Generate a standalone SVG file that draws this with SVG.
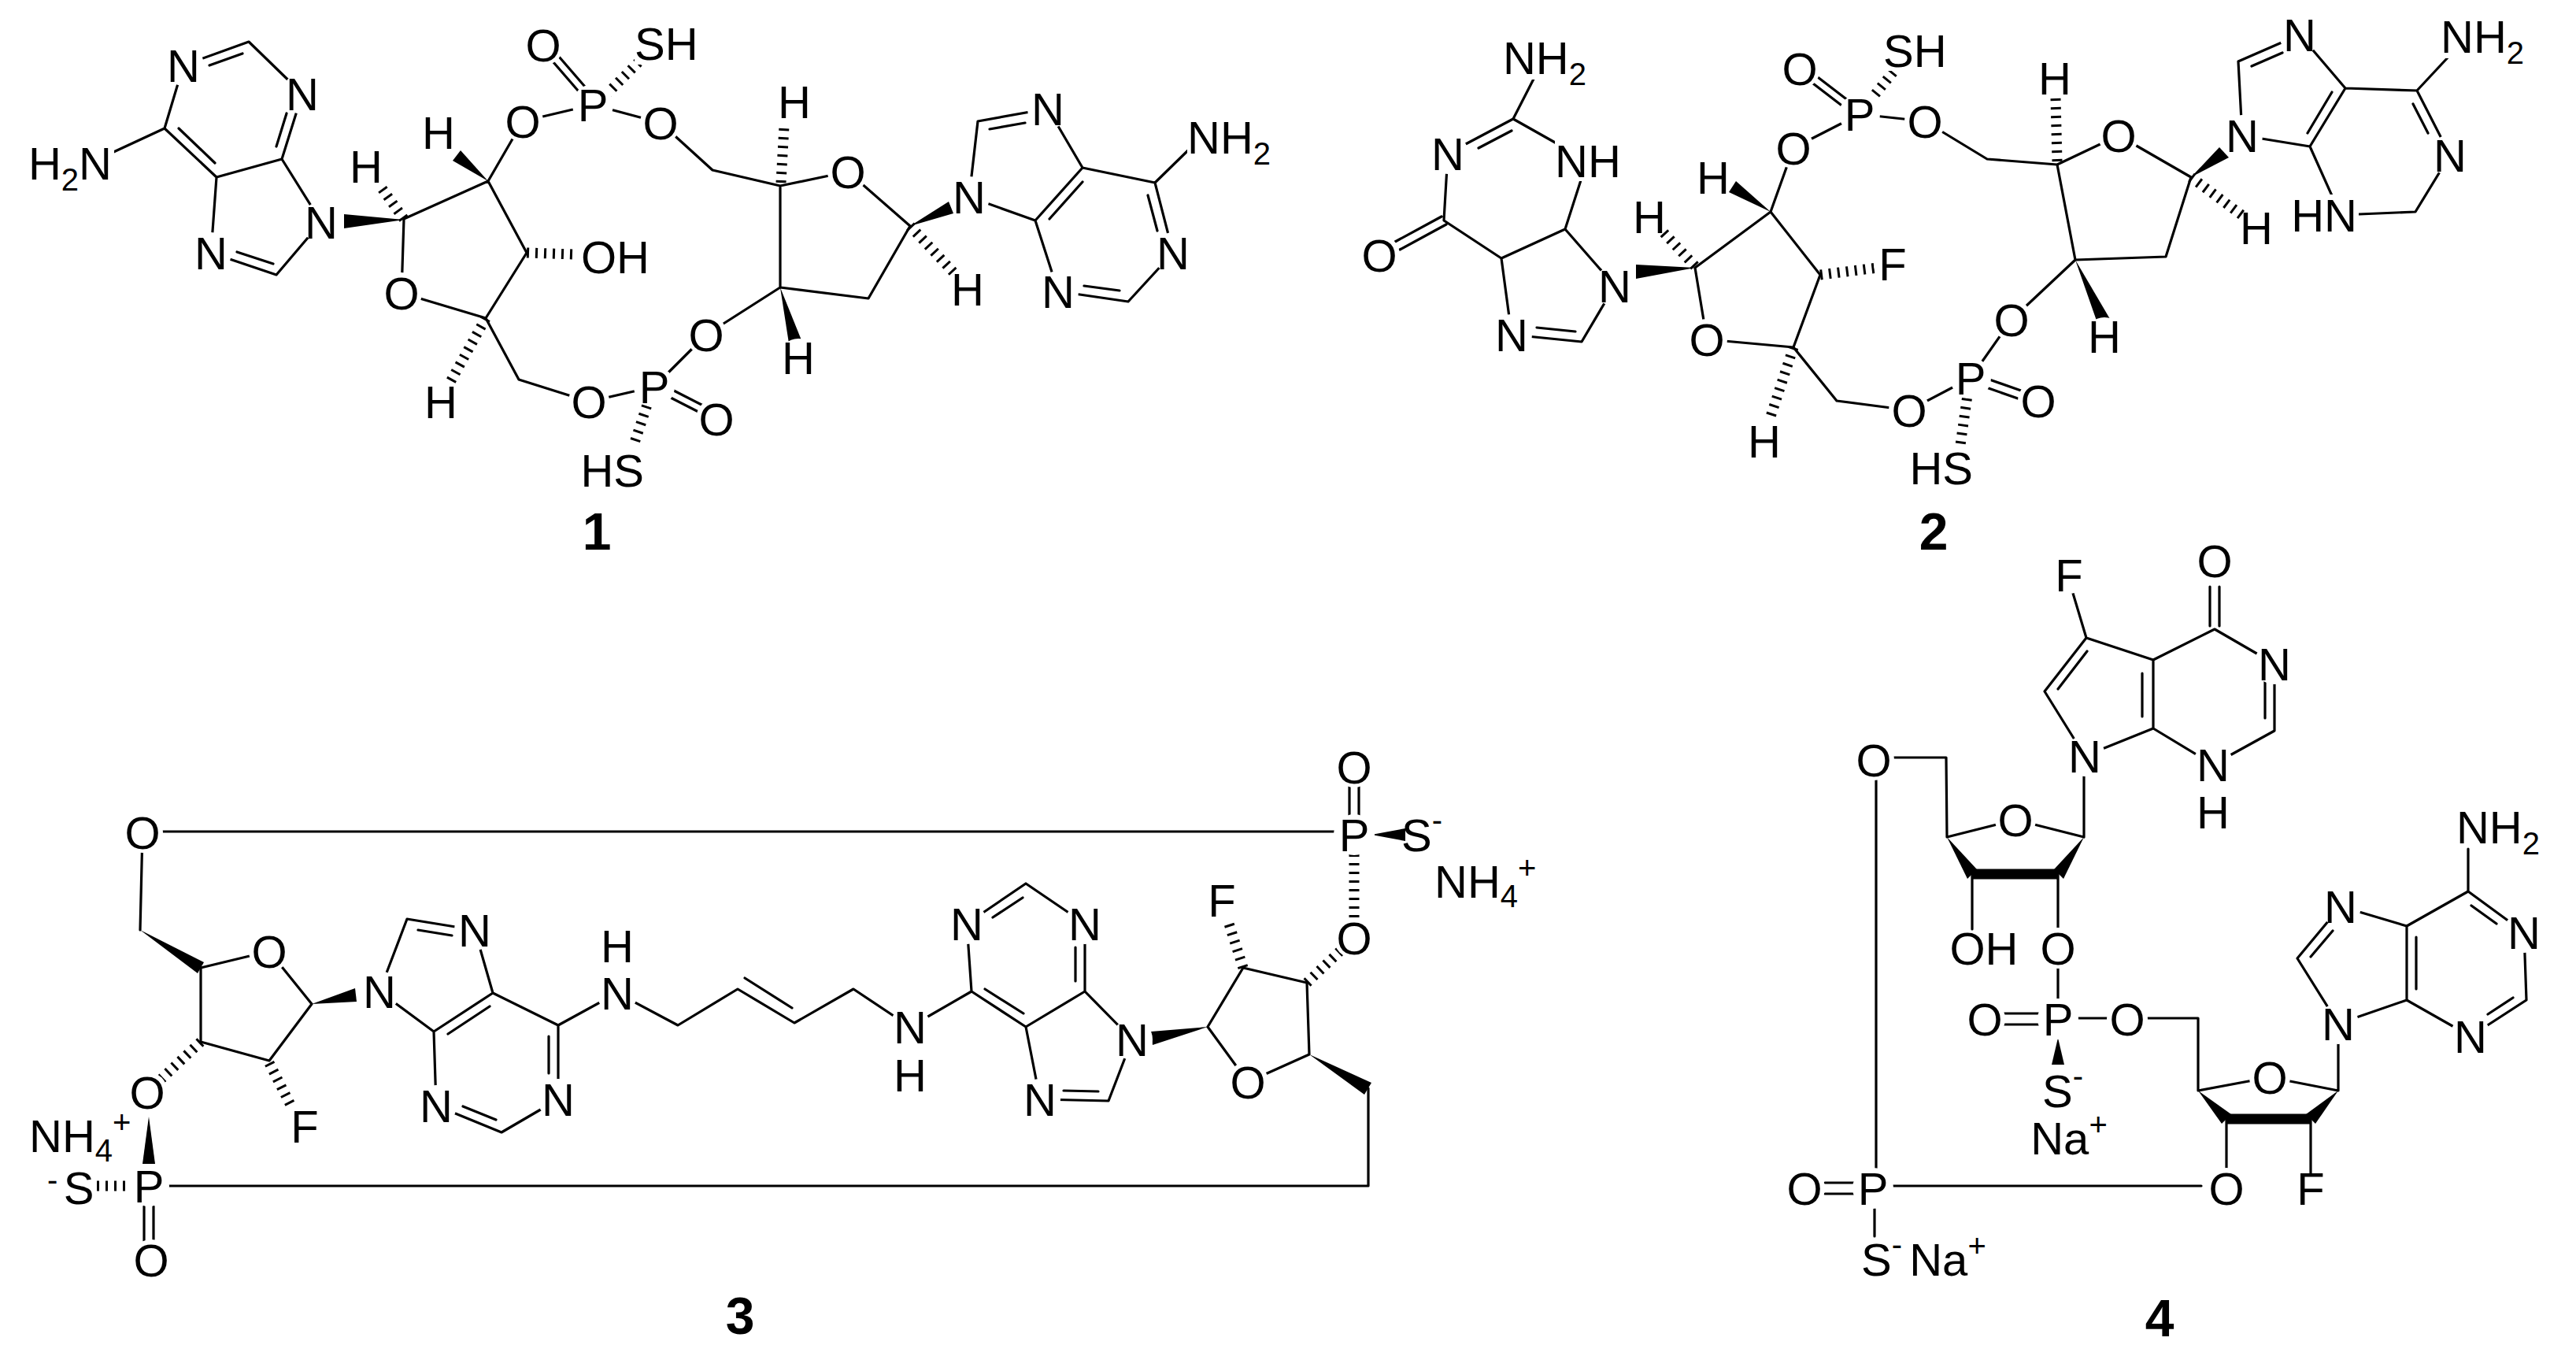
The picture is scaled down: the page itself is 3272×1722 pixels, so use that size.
<svg xmlns="http://www.w3.org/2000/svg" width="3272" height="1722" viewBox="0 0 3272 1722">
<style>
.b{stroke:#000;stroke-width:3.2;fill:none;stroke-linecap:round;stroke-linejoin:round}
.t{stroke:#000;stroke-width:13;fill:none}
.h{stroke:#000;stroke-width:13;stroke-dasharray:3 8;fill:none}
.w{fill:#000}
.bg{fill:#fff}
text{font-family:"Liberation Sans",Arial,sans-serif;font-size:58px;fill:#000}
.m{text-anchor:middle}
.e{text-anchor:end}
.s{font-size:40px}
.lb{font-weight:bold;font-size:66px;text-anchor:middle}
</style>
<rect width="3272" height="1722" fill="#fff"/>
<g id="c1">
<path class="b" d="M233,83 L316,53 L384,119 L358,202 L275,225 L209,163 L233,83 M209,163 L140,195 M275,225 L268,321 L351,349 L408,282 L358,202 M301,320 L347,335 M266,83 L308,68 M364,144 L351,186 M273,207 L227,163 M513,278 L620,230 L669,321 L617,404 L510,372 L513,278 M620,230 L664,154 L753,133 L839,156 L905,216 L991,236 L1077,218 L1156,287 L1103,379 L991,365 L991,236 M617,404 L659,482 L748,510 L831,491 L897,425 L991,365 M749,117 L704,65 M741,123 L696,71 M846,502 L893,526 M850,493 L897,517 M1231,250 L1242,154 L1331,138 L1375,213 L1315,280 L1231,250 M1375,213 L1467,232 L1490,321 L1433,383 L1344,370 L1315,280 M1467,232 L1510,190 M1257,164 L1302,156 M1375,231 L1333,278 M1458,248 L1470,293 M1422,369 L1377,363"/>
<path class="h" d="M513,278 L482,235 M669,321 L730,323 M617,404 L572,485 M825,505 L805,565 M770,120 L812,78 M992,232 L996,160 M1156,287 L1215,350"/>
<polygon class="w" points="513,279 437,272 437,290"/>
<polygon class="w" points="620,230 585,191 575,204"/>
<polygon class="w" points="991,365 1002,436 1018,432"/>
<polygon class="w" points="1156,287 1205,256 1211,271"/>
<g>
<circle class="bg" cx="233" cy="83" r="26"/><text class="m" x="233" y="104">N</text>
<circle class="bg" cx="384" cy="119" r="26"/><text class="m" x="384" y="140">N</text>
<rect class="bg" x="35" y="180" width="110" height="55"/><text class="e" x="142" y="228">H<tspan class="s" dy="14">2</tspan><tspan dy="-14">N</tspan></text>
<circle class="bg" cx="408" cy="282" r="26"/><text class="m" x="408" y="303">N</text>
<circle class="bg" cx="268" cy="321" r="26"/><text class="m" x="268" y="342">N</text>
<circle class="bg" cx="465" cy="211" r="24"/><text class="m" x="465" y="232">H</text>
<circle class="bg" cx="557" cy="168" r="24"/><text class="m" x="557" y="189">H</text>
<circle class="bg" cx="664" cy="154" r="26"/><text class="m" x="664" y="175">O</text>
<circle class="bg" cx="753" cy="133" r="26"/><text class="m" x="753" y="154">P</text>
<circle class="bg" cx="690" cy="57" r="26"/><text class="m" x="690" y="78">O</text>
<rect class="bg" x="806" y="30" width="72" height="52"/><text x="806" y="76">SH</text>
<rect class="bg" x="738" y="300" width="84" height="52"/><text x="738" y="347">OH</text>
<circle class="bg" cx="510" cy="372" r="26"/><text class="m" x="510" y="393">O</text>
<circle class="bg" cx="560" cy="510" r="24"/><text class="m" x="560" y="531">H</text>
<circle class="bg" cx="748" cy="510" r="26"/><text class="m" x="748" y="531">O</text>
<circle class="bg" cx="831" cy="491" r="26"/><text class="m" x="831" y="512">P</text>
<circle class="bg" cx="910" cy="532" r="26"/><text class="m" x="910" y="553">O</text>
<rect class="bg" x="736" y="570" width="84" height="54"/><text class="e" x="818" y="618">HS</text>
<circle class="bg" cx="897" cy="425" r="26"/><text class="m" x="897" y="446">O</text>
<circle class="bg" cx="1014" cy="454" r="24"/><text class="m" x="1014" y="475">H</text>
<circle class="bg" cx="1077" cy="218" r="26"/><text class="m" x="1077" y="239">O</text>
<circle class="bg" cx="1009" cy="129" r="24"/><text class="m" x="1009" y="150">H</text>
<circle class="bg" cx="839" cy="156" r="26"/><text class="m" x="839" y="177">O</text>
<circle class="bg" cx="1229" cy="367" r="24"/><text class="m" x="1229" y="388">H</text>
<circle class="bg" cx="1231" cy="250" r="26"/><text class="m" x="1231" y="271">N</text>
<circle class="bg" cx="1331" cy="138" r="26"/><text class="m" x="1331" y="159">N</text>
<rect class="bg" x="1508" y="146" width="112" height="56"/><text x="1508" y="195">NH<tspan class="s" dy="14">2</tspan></text>
<circle class="bg" cx="1490" cy="321" r="26"/><text class="m" x="1490" y="342">N</text>
<circle class="bg" cx="1344" cy="370" r="26"/><text class="m" x="1344" y="391">N</text>
<text class="lb" x="758" y="698">1</text>
</g>
</g>
<g id="c2">
<path class="b" d="M1962,73 L1922,151 L1839,195 L1834,280 L1907,328 L1988,291 L2016,204 L1922,151 M1907,328 L1920,425 L2009,434 L2051,363 L1988,291 M1920,166 L1878,188 M1837,285 L1778,317 M1831,275 L1772,307 M1952,416 L2001,421 M2153,340 L2249,269 L2312,349 L2278,441 L2168,431 L2153,340 M2249,269 L2278,188 L2362,145 L2445,154 L2524,202 L2613,209 L2691,172 L2783,225 L2751,326 L2636,330 L2613,209 M2636,330 L2555,406 L2503,480 L2425,521 L2333,509 L2278,441 M2348,128 L2305,95 M2342,136 L2299,103 M2523,492 L2563,506 M2527,482 L2567,496 M2848,172 L2843,78 L2921,44 L2979,112 L2934,186 L2848,172 M2979,112 L3070,115 L3112,197 L3068,269 L2973,273 L2934,186 M3070,115 L3112,70 M2860,84 L2899,67 M2962,117 L2931,169 M3065,132 L3084,169"/>
<path class="h" d="M2153,338 L2110,292 M2375,128 L2410,85 M2613,205 L2611,125 M2783,225 L2850,275 M2500,495 L2490,565 M2312,349 L2385,340 M2278,441 L2247,535"/>
<polygon class="w" points="2153,340 2078,336 2078,354"/>
<polygon class="w" points="2249,269 2205,230 2196,244"/>
<polygon class="w" points="2783,225 2819,187 2831,200"/>
<polygon class="w" points="2636,330 2664,410 2680,405"/>
<g>
<rect class="bg" x="1906" y="45" width="114" height="56"/><text class="m" x="1962" y="94">NH<tspan class="s" dy="14">2</tspan></text>
<circle class="bg" cx="1839" cy="195" r="26"/><text class="m" x="1839" y="216">N</text>
<rect class="bg" x="1975" y="178" width="84" height="52"/><text x="1975" y="225">NH</text>
<circle class="bg" cx="1752" cy="324" r="26"/><text class="m" x="1752" y="345">O</text>
<circle class="bg" cx="2051" cy="363" r="26"/><text class="m" x="2051" y="384">N</text>
<circle class="bg" cx="1920" cy="425" r="26"/><text class="m" x="1920" y="446">N</text>
<circle class="bg" cx="2095" cy="275" r="24"/><text class="m" x="2095" y="296">H</text>
<circle class="bg" cx="2176" cy="225" r="24"/><text class="m" x="2176" y="246">H</text>
<circle class="bg" cx="2278" cy="188" r="26"/><text class="m" x="2278" y="209">O</text>
<circle class="bg" cx="2362" cy="145" r="26"/><text class="m" x="2362" y="166">P</text>
<circle class="bg" cx="2286" cy="87" r="26"/><text class="m" x="2286" y="108">O</text>
<rect class="bg" x="2392" y="38" width="76" height="52"/><text x="2392" y="85">SH</text>
<circle class="bg" cx="2404" cy="335" r="24"/><text class="m" x="2404" y="356">F</text>
<circle class="bg" cx="2168" cy="431" r="26"/><text class="m" x="2168" y="452">O</text>
<circle class="bg" cx="2241" cy="560" r="24"/><text class="m" x="2241" y="581">H</text>
<circle class="bg" cx="2425" cy="521" r="26"/><text class="m" x="2425" y="542">O</text>
<circle class="bg" cx="2445" cy="154" r="26"/><text class="m" x="2445" y="175">O</text>
<circle class="bg" cx="2610" cy="99" r="24"/><text class="m" x="2610" y="120">H</text>
<circle class="bg" cx="2691" cy="172" r="26"/><text class="m" x="2691" y="193">O</text>
<circle class="bg" cx="2866" cy="289" r="24"/><text class="m" x="2866" y="310">H</text>
<circle class="bg" cx="2673" cy="427" r="24"/><text class="m" x="2673" y="448">H</text>
<circle class="bg" cx="2555" cy="406" r="26"/><text class="m" x="2555" y="427">O</text>
<circle class="bg" cx="2503" cy="480" r="26"/><text class="m" x="2503" y="501">P</text>
<circle class="bg" cx="2589" cy="509" r="26"/><text class="m" x="2589" y="530">O</text>
<rect class="bg" x="2424" y="567" width="84" height="54"/><text class="e" x="2506" y="615">HS</text>
<circle class="bg" cx="2848" cy="172" r="26"/><text class="m" x="2848" y="193">N</text>
<circle class="bg" cx="2921" cy="44" r="26"/><text class="m" x="2921" y="65">N</text>
<rect class="bg" x="3100" y="18" width="114" height="56"/><text x="3100" y="67">NH<tspan class="s" dy="14">2</tspan></text>
<circle class="bg" cx="3112" cy="197" r="26"/><text class="m" x="3112" y="218">N</text>
<rect class="bg" x="2912" y="247" width="84" height="52"/><text class="e" x="2994" y="294">HN</text>
<text class="lb" x="2456" y="698">2</text>
</g>
</g>
<g id="c3">
<path class="b" d="M181,1056 L1720,1056 M181,1057 L178,1181 M255,1229 L342,1208 L396,1275 L342,1347 L255,1323 L255,1229 M183,1532 L183,1576 M195,1532 L195,1576 M189,1506 L1738,1506 L1738,1382 M482,1259 L517,1167 L603,1181 L626,1261 L551,1310 L482,1259 M626,1261 L709,1302 L709,1396 L637,1438 L554,1404 L551,1310 M709,1302 L784,1261 L861,1302 L937,1256 L1009,1299 L1084,1256 L1156,1304 L1234,1259 L1228,1173 L1303,1122 L1378,1173 L1378,1259 L1303,1304 L1234,1259 M1303,1304 L1321,1396 L1408,1398 L1438,1320 L1378,1259 M531,1181 L574,1188 M622,1278 L569,1313 M697,1316 L697,1363 M630,1422 L588,1405 M946,1242 L1006,1280 M1251,1256 L1300,1287 M1261,1165 L1299,1140 M1366,1203 L1366,1246 M1351,1385 L1395,1386 M1534,1304 L1579,1229 L1660,1248 L1663,1339 L1585,1374 L1534,1304 M1714,995 L1714,1038 M1726,995 L1726,1038"/>
<path class="h" d="M342,1350 L370,1405 M255,1323 L205,1370 M170,1506 L122,1506 M1579,1229 L1560,1170 M1660,1248 L1705,1205 M1720,1085 L1720,1165"/>
<polygon class="w" points="178,1181 251,1236 259,1222"/>
<polygon class="w" points="396,1275 451,1255 453,1272"/>
<polygon class="w" points="189,1418 181,1478 197,1478"/>
<polygon class="w" points="1534,1304 1462,1310 1464,1327"/>
<polygon class="w" points="1663,1339 1733,1390 1742,1375"/>
<polygon class="w" points="1742,1060 1785,1052 1785,1068"/>
<g>
<circle class="bg" cx="181" cy="1057" r="26"/><text class="m" x="181" y="1078">O</text>
<circle class="bg" cx="342" cy="1208" r="26"/><text class="m" x="342" y="1229">O</text>
<circle class="bg" cx="482" cy="1259" r="26"/><text class="m" x="482" y="1280">N</text>
<circle class="bg" cx="387" cy="1430" r="24"/><text class="m" x="387" y="1451">F</text>
<circle class="bg" cx="187" cy="1387" r="26"/><text class="m" x="187" y="1408">O</text>
<circle class="bg" cx="189" cy="1506" r="26"/><text class="m" x="189" y="1527">P</text>
<text x="37" y="1463">NH<tspan class="s" dy="12">4</tspan><tspan class="s" dy="-36">+</tspan></text>
<text class="s" x="60" y="1512">-</text>
<circle class="bg" cx="100" cy="1508" r="22"/><text class="m" x="100" y="1529">S</text>
<circle class="bg" cx="192" cy="1600" r="26"/><text class="m" x="192" y="1621">O</text>
<circle class="bg" cx="603" cy="1181" r="26"/><text class="m" x="603" y="1202">N</text>
<circle class="bg" cx="554" cy="1404" r="26"/><text class="m" x="554" y="1425">N</text>
<circle class="bg" cx="709" cy="1396" r="26"/><text class="m" x="709" y="1417">N</text>
<circle class="bg" cx="784" cy="1261" r="26"/><text class="m" x="784" y="1282">N</text>
<text class="m" x="784" y="1222">H</text>
<circle class="bg" cx="1156" cy="1304" r="26"/><text class="m" x="1156" y="1325">N</text>
<text class="m" x="1156" y="1386">H</text>
<circle class="bg" cx="1228" cy="1173" r="26"/><text class="m" x="1228" y="1194">N</text>
<circle class="bg" cx="1378" cy="1173" r="26"/><text class="m" x="1378" y="1194">N</text>
<circle class="bg" cx="1321" cy="1396" r="26"/><text class="m" x="1321" y="1417">N</text>
<circle class="bg" cx="1438" cy="1320" r="26"/><text class="m" x="1438" y="1341">N</text>
<circle class="bg" cx="1552" cy="1143" r="24"/><text class="m" x="1552" y="1164">F</text>
<circle class="bg" cx="1720" cy="1191" r="26"/><text class="m" x="1720" y="1212">O</text>
<circle class="bg" cx="1585" cy="1374" r="26"/><text class="m" x="1585" y="1395">O</text>
<circle class="bg" cx="1720" cy="1060" r="26"/><text class="m" x="1720" y="1081">P</text>
<circle class="bg" cx="1720" cy="974" r="26"/><text class="m" x="1720" y="995">O</text>
<text class="m" x="1806" y="1081">S<tspan class="s" dy="-26">-</tspan></text>
<text x="1822" y="1140">NH<tspan class="s" dy="12">4</tspan><tspan class="s" dy="-36">+</tspan></text>
<text class="lb" x="940" y="1694">3</text>
</g>
</g>
<g id="c4">
<path class="b" d="M2380,962 L2472,962 L2473,1063 L2560,1041 L2647,1063 L2647,965 M2383,990 L2383,1485 M2505,1110 L2505,1180 M2614,1110 L2614,1180 M2614,1228 L2614,1270 M2544,1287 L2590,1287 M2544,1301 L2590,1301 M2640,1293 L2678,1293 M2728,1293 L2792,1293 L2792,1385 L2883,1368 L2970,1385 L2970,1300 M2828,1421 L2828,1490 M2935,1421 L2935,1490 M2400,1506 L2796,1506 M2318,1502 L2355,1502 M2318,1516 L2355,1516 M2381,1535 L2381,1570 M2648,960 L2597,878 L2650,810 L2735,838 L2735,925 L2648,960 M2650,810 L2632,750 M2735,838 L2813,799 L2889,843 L2889,928 L2811,971 L2735,925 M2614,875 L2651,827 M2721,855 L2721,910 M2877,862 L2877,912 M2807,745 L2807,795 M2819,745 L2819,795 M2970,1300 L2918,1217 L2973,1151 L3057,1176 L3057,1270 L2970,1300 M3057,1176 L3135,1132 L3206,1184 L3209,1270 L3138,1316 L3057,1270 M3135,1132 L3135,1078 M2935,1215 L2963,1182 M3069,1190 L3069,1256 M3139,1150 L3171,1173 M3192,1267 L3160,1288"/>
<path class="t" d="M2505,1110 L2615,1110 M2828,1421 L2935,1421"/>
<polygon class="w" points="2473,1063 2499,1116 2511,1104"/>
<polygon class="w" points="2647,1063 2609,1104 2621,1116"/>
<polygon class="w" points="2792,1385 2822,1427 2834,1415"/>
<polygon class="w" points="2970,1385 2929,1415 2941,1427"/>
<polygon class="w" points="2614,1318 2606,1352 2622,1352"/>
<g>
<circle class="bg" cx="2380" cy="965" r="26"/><text class="m" x="2380" y="986">O</text>
<circle class="bg" cx="2560" cy="1041" r="26"/><text class="m" x="2560" y="1062">O</text>
<circle class="bg" cx="2648" cy="960" r="26"/><text class="m" x="2648" y="981">N</text>
<circle class="bg" cx="2628" cy="730" r="24"/><text class="m" x="2628" y="751">F</text>
<circle class="bg" cx="2813" cy="712" r="26"/><text class="m" x="2813" y="733">O</text>
<circle class="bg" cx="2889" cy="843" r="26"/><text class="m" x="2889" y="864">N</text>
<circle class="bg" cx="2811" cy="971" r="26"/><text class="m" x="2811" y="992">N</text>
<text class="m" x="2811" y="1052">H</text>
<text class="m" x="2520" y="1225">OH</text>
<circle class="bg" cx="2614" cy="1204" r="26"/><text class="m" x="2614" y="1225">O</text>
<circle class="bg" cx="2614" cy="1294" r="26"/><text class="m" x="2614" y="1315">P</text>
<circle class="bg" cx="2521" cy="1294" r="26"/><text class="m" x="2521" y="1315">O</text>
<circle class="bg" cx="2702" cy="1294" r="26"/><text class="m" x="2702" y="1315">O</text>
<text class="m" x="2620" y="1406">S<tspan class="s" dy="-26">-</tspan></text>
<text class="m" x="2628" y="1466">Na<tspan class="s" dy="-24">+</tspan></text>
<circle class="bg" cx="2883" cy="1368" r="26"/><text class="m" x="2883" y="1389">O</text>
<circle class="bg" cx="2970" cy="1300" r="26"/><text class="m" x="2970" y="1321">N</text>
<circle class="bg" cx="2828" cy="1509" r="26"/><text class="m" x="2828" y="1530">O</text>
<text class="m" x="2935" y="1530">F</text>
<circle class="bg" cx="2379" cy="1509" r="26"/><text class="m" x="2379" y="1530">P</text>
<circle class="bg" cx="2292" cy="1509" r="26"/><text class="m" x="2292" y="1530">O</text>
<text class="m" x="2390" y="1620">S<tspan class="s" dy="-26">-</tspan></text>
<text class="m" x="2474" y="1620">Na<tspan class="s" dy="-24">+</tspan></text>
<circle class="bg" cx="2973" cy="1151" r="26"/><text class="m" x="2973" y="1172">N</text>
<circle class="bg" cx="3206" cy="1184" r="26"/><text class="m" x="3206" y="1205">N</text>
<circle class="bg" cx="3138" cy="1316" r="26"/><text class="m" x="3138" y="1337">N</text>
<text class="m" x="3173" y="1071">NH<tspan class="s" dy="14">2</tspan></text>
<text class="lb" x="2743" y="1697">4</text>
</g>
</g>
</svg>
